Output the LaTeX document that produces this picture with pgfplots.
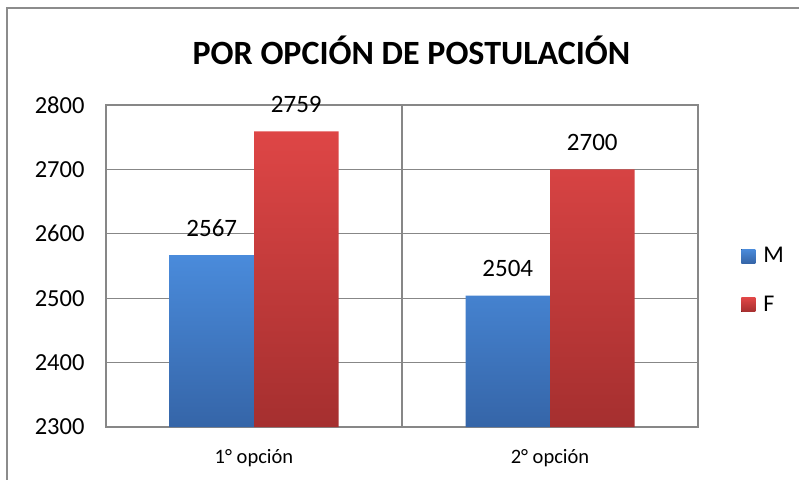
\documentclass[border=0pt]{standalone}
\usepackage{fontspec}
\setmainfont{Carlito}
\usepackage{pgfplots}
\pgfplotsset{compat=1.18}
\definecolor{gridg}{HTML}{878787}
\definecolor{frameg}{HTML}{8C8C8C}
\definecolor{bluet}{HTML}{4A8BDB}
\definecolor{blueb}{HTML}{3565A8}
\definecolor{redt}{HTML}{DE4646}
\definecolor{redb}{HTML}{A52F2F}
\begin{document}
\begin{tikzpicture}[x=1pt,y=1pt]
\useasboundingbox (0,0) rectangle (799,479);
\draw[frameg,line width=1.6pt] (7,-2) -- (7,471) -- (801,471);
\begin{axis}[
  at={(106pt,52pt)}, anchor=south west,
  scale only axis, width=592pt, height=322pt,
  ybar=0pt, bar width=84.5pt,
  xmin=0.5, xmax=2.5, ymin=2300, ymax=2800,
  xtick={1,2}, xticklabels={1° opción,2° opción},
  minor xtick={1.5}, xminorgrids,
  ytick={2300,2400,...,2800}, ymajorgrids,
  major tick length=0pt, minor tick length=0pt,
  axis line style={gridg,line width=1.1pt},
  grid style={gridg,line width=1.1pt},
  minor grid style={gridg,line width=1.1pt},
  /pgf/number format/assume math mode=true,
  /pgf/number format/1000 sep={},
  yticklabel style={font=\fontsize{24.5}{28}\selectfont,xshift=-18pt},
  xticklabel style={font=\fontsize{20.5}{24}\selectfont,yshift=-19pt},
  nodes near coords,
  nodes near coords style={font=\fontsize{25}{28}\selectfont,anchor=base,yshift=19pt,text=black},
  title={POR OPCIÓN DE POSTULACIÓN},
  title style={font=\fontsize{34}{40}\selectfont\bfseries,anchor=center,at={(0.516,1)},yshift=49pt},
  legend style={at={(1.073,0.455)},anchor=west,draw=none,fill=none,
    font=\fontsize{24}{28}\selectfont,row sep=28pt,inner sep=0pt,
    /tikz/every odd column/.append style={column sep=6pt}},
  legend image code/.code={\fill[#1] (0pt,-7pt) rectangle (14pt,7pt);},
  legend cell align=left,
]
\addplot[draw=none,top color=bluet,bottom color=blueb] coordinates {(1,2567) (2,2504)};
\addplot[draw=none,top color=redt,bottom color=redb] coordinates {(1,2759) (2,2700)};
\legend{M,F}
\end{axis}
\end{tikzpicture}
\end{document}
